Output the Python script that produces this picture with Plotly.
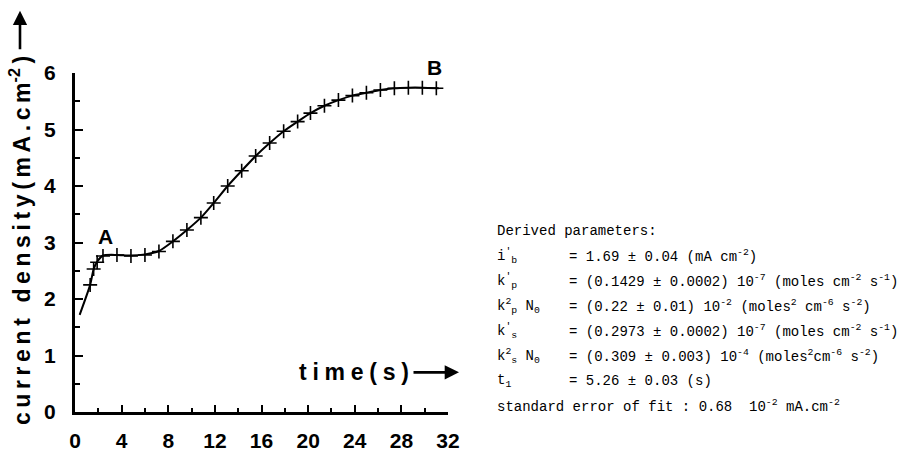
import plotly.graph_objects as go

# ---------------- data ----------------
t_obs = [1.3, 1.6, 1.9, 2.4, 3.6, 4.8, 6.0, 7.2, 8.4, 9.6, 10.8, 11.9, 13.1, 14.3,
         15.5, 16.7, 17.9, 19.1, 20.2, 21.4, 22.6, 23.8, 25.0, 26.2, 27.4, 28.6, 29.8, 31.0]
j_obs = [2.25, 2.53, 2.65, 2.76, 2.78, 2.76, 2.78, 2.84, 3.02, 3.22, 3.44, 3.70, 4.00, 4.27,
         4.53, 4.76, 4.97, 5.14, 5.29, 5.42, 5.52, 5.60, 5.65, 5.70, 5.73, 5.74, 5.74, 5.73]

t_fit = [0.4, 1.3, 1.6, 1.9, 2.4, 3.6, 4.8, 6.0, 7.2, 8.4, 9.6, 10.8, 11.9, 13.1, 14.3,
         15.5, 16.7, 17.9, 19.1, 20.2, 21.4, 22.6, 23.8, 25.0, 26.2, 27.4, 28.6, 29.8, 31.2]
j_fit = [1.72, 2.25, 2.53, 2.66, 2.77, 2.78, 2.77, 2.79, 2.85, 3.02, 3.22, 3.44, 3.70, 4.00, 4.27,
         4.53, 4.76, 4.97, 5.14, 5.29, 5.42, 5.52, 5.60, 5.65, 5.70, 5.73, 5.74, 5.74, 5.73]

x_ticks = [0, 4, 8, 12, 16, 20, 24, 28, 32]
y_ticks = [0, 1, 2, 3, 4, 5, 6]

point_labels = ["A", "B"]
point_label_t = [2.6, 30.8]
point_label_j = [2.86, 5.86]

param_names = ["i<sup>'</sup><sub>b</sub>",
               "k<sup>'</sup><sub>p</sub>",
               "k<sup>2</sup><sub>p</sub> N<sub>0</sub>",
               "k<sup>'</sup><sub>s</sub>",
               "k<sup>2</sup><sub>s</sub> N<sub>0</sub>",
               "t<sub>1</sub>"]
param_values = ["= 1.69 ± 0.04 (mA cm<sup>-2</sup>)",
                "= (0.1429 ± 0.0002) 10<sup>-7</sup> (moles cm<sup>-2</sup> s<sup>-1</sup>)",
                "= (0.22 ± 0.01) 10<sup>-2</sup> (moles<sup>2</sup> cm<sup>-6</sup> s<sup>-2</sup>)",
                "= (0.2973 ± 0.0002) 10<sup>-7</sup> (moles cm<sup>-2</sup> s<sup>-1</sup>)",
                "= (0.309 ± 0.003) 10<sup>-4</sup> (moles<sup>2</sup>cm<sup>-6</sup> s<sup>-2</sup>)",
                "= 5.26 ± 0.03 (s)"]
header_text = "Derived parameters:"
footer_text = "standard error of fit : 0.68  10<sup>-2</sup> mA.cm<sup>-2</sup>"

# ---------------- layout helpers (pixel -> paper) ----------------
W, H = 924, 464
L, R, T, B = 75, 448, 73, 432  # plot area in pixels


def px(p):
    return (p - L) / (R - L)


def py(p):
    return (B - p) / (B - T)


SANS = "Liberation Sans"
MONO = "Liberation Mono"

fig = go.Figure()
fig.add_trace(go.Scatter(x=t_fit, y=j_fit, mode="lines",
                         line=dict(color="black", width=2, shape="spline", smoothing=0.6),
                         hoverinfo="skip", showlegend=False))
fig.add_trace(go.Scatter(x=t_obs, y=j_obs, mode="markers",
                         marker=dict(symbol="cross-thin-open", size=10, color="black",
                                     line=dict(color="black", width=1.6)),
                         showlegend=False))

annotations = []
for lab, tx, jy in zip(point_labels, point_label_t, point_label_j):
    annotations.append(dict(x=tx, y=jy, xref="x", yref="y", text=lab, showarrow=False,
                            yanchor="bottom",
                            font=dict(family=SANS, size=21, color="black", weight="bold")))

sp_y = "\u2009"
ytitle = sp_y.join(list("current density")) + sp_y + sp_y.join(list("(mA.cm")) + "<sup>-2</sup>" + sp_y + ")"
annotations.append(dict(x=px(20), y=py(251), xref="paper", yref="paper", text=ytitle,
                        textangle=-90, showarrow=False, xanchor="center", yanchor="middle",
                        font=dict(family=SANS, size=23, color="black", weight="bold")))
annotations.append(dict(x=px(20), y=py(7), ax=0, ay=40, xref="paper", yref="paper",
                        text="", showarrow=True,
                        arrowhead=2, arrowsize=1.1, arrowwidth=2.6, arrowcolor="black"))

sp_x = "\u2005"
xtitle = sp_x.join(list("time(s)"))
annotations.append(dict(x=px(297), y=py(390), xref="paper", yref="paper", text=xtitle,
                        showarrow=False, xanchor="left", yanchor="middle",
                        font=dict(family=SANS, size=23, color="black", weight="bold")))
annotations.append(dict(x=px(459), y=py(390), ax=-47, ay=0, xref="paper", yref="paper",
                        text="", showarrow=True,
                        arrowhead=2, arrowsize=1.1, arrowwidth=2.6, arrowcolor="black"))

# text block
x_left = 495
x_eq = 567
y0 = 240
dy = 26.5
tfont = dict(family=MONO, size=14, color="black")
annotations.append(dict(x=px(x_left), y=py(y0), xref="paper", yref="paper", text=header_text,
                        showarrow=False, xanchor="left", yanchor="middle", font=tfont))
for i, (nm, val) in enumerate(zip(param_names, param_values)):
    yy = y0 + dy * (i + 1)
    annotations.append(dict(x=px(x_left), y=py(yy), xref="paper", yref="paper", text=nm,
                            showarrow=False, xanchor="left", yanchor="middle", font=tfont))
    annotations.append(dict(x=px(x_eq), y=py(yy), xref="paper", yref="paper", text=val,
                            showarrow=False, xanchor="left", yanchor="middle", font=tfont))
annotations.append(dict(x=px(x_left), y=py(y0 + dy * 7), xref="paper", yref="paper", text=footer_text,
                        showarrow=False, xanchor="left", yanchor="middle", font=tfont))

fig.update_layout(
    width=W, height=H,
    margin=dict(l=L, r=W - R, t=T, b=H - B, pad=0),
    paper_bgcolor="white", plot_bgcolor="white",
    annotations=annotations,
    xaxis=dict(range=[0, 32], tickvals=x_ticks, ticktext=[str(v) for v in x_ticks],
               ticks="inside", ticklen=7, tickwidth=2, tickcolor="black",
               minor=dict(dtick=2, tick0=0, ticks="inside", ticklen=4, tickwidth=1.5, tickcolor="black"),
               showline=True, linecolor="black", linewidth=2.5, showgrid=False, zeroline=False,
               ticklabelstandoff=8,
               tickfont=dict(family=SANS, size=21, color="black", weight="bold")),
    yaxis=dict(range=[0, 6], tickvals=y_ticks, ticktext=[str(v) for v in y_ticks],
               ticks="inside", ticklen=8, tickwidth=2, tickcolor="black",
               minor=dict(dtick=0.5, tick0=0, ticks="inside", ticklen=5, tickwidth=1.5, tickcolor="black"),
               showline=True, linecolor="black", linewidth=3, showgrid=False, zeroline=False,
               ticklabelstandoff=12,
               tickfont=dict(family=SANS, size=21, color="black", weight="bold")),
)

fig.write_html("out.html")
